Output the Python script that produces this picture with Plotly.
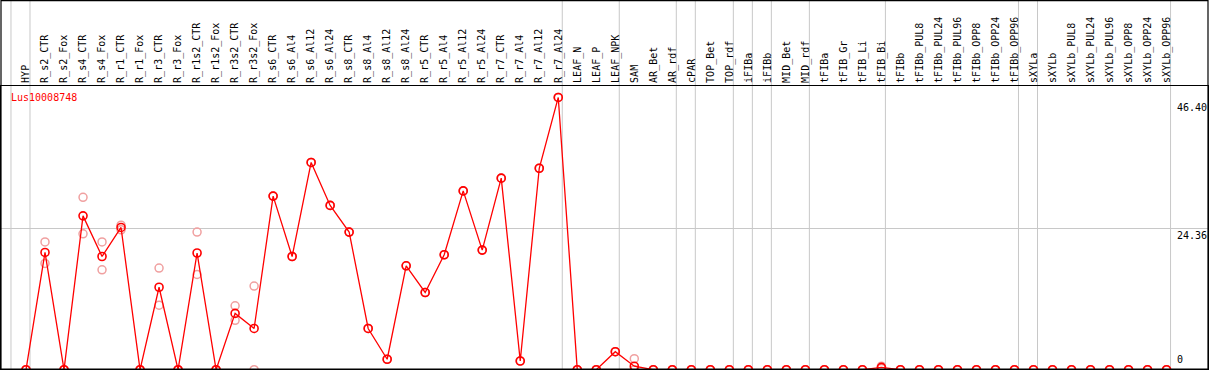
import plotly.graph_objects as go

categories = ["HYP", "R_s2_CTR", "R_s2_Fox", "R_s4_CTR", "R_s4_Fox", "R_r1_CTR", "R_r1_Fox",
              "R_r3_CTR", "R_r3_Fox", "R_r1s2_CTR", "R_r1s2_Fox", "R_r3s2_CTR", "R_r3s2_Fox",
              "R_s6_CTR", "R_s6_Al4", "R_s6_Al12", "R_s6_Al24", "R_s8_CTR", "R_s8_Al4",
              "R_s8_Al12", "R_s8_Al24", "R_r5_CTR", "R_r5_Al4", "R_r5_Al12", "R_r5_Al24",
              "R_r7_CTR", "R_r7_Al4", "R_r7_Al12", "R_r7_Al24", "LEAF_N", "LEAF_P", "LEAF_NPK",
              "SAM", "AR_Bet", "AR_rdf", "cPAR", "TOP_Bet", "TOP_rdf", "iFIBa", "iFIBb",
              "MID_Bet", "MID_rdf", "tFIBa", "tFIB_Gr", "tFIB_Li", "tFIB_Bi", "tFIBb",
              "tFIBb_PUL8", "tFIBb_PUL24", "tFIBb_PUL96", "tFIBb_OPP8", "tFIBb_OPP24",
              "tFIBb_OPP96", "sXYLa", "sXYLb", "sXYLb_PUL8", "sXYLb_PUL24", "sXYLb_PUL96",
              "sXYLb_OPP8", "sXYLb_OPP24", "sXYLb_OPP96"]

mean_values = [0, 20.2, 0, 26.5, 19.5, 24.5, 0, 14.2, 0, 20.1, 0, 9.7, 7.1,
               29.9, 19.5, 35.7, 28.3, 23.7, 7.1, 1.8, 17.9, 13.3, 19.8, 30.8, 20.6,
               33.0, 1.5, 34.7, 46.9, 0, 0, 3.1,
               0.6, 0, 0, 0, 0, 0, 0, 0, 0, 0, 0, 0, 0, 0.4, 0,
               0, 0, 0, 0, 0, 0, 0, 0, 0, 0, 0, 0, 0, 0]

rep_a = [0, 22.0, 0, 29.7, 22.0, 24.9, 0, 17.5, 0, 23.7, 0, 11.0, 14.4,
         29.9, 19.5, 35.7, 28.3, 23.7, 7.1, 1.8, 17.9, 13.3, 19.8, 30.8, 20.6,
         33.0, 1.5, 34.7, 46.9, 0, 0, 3.1,
         1.9, 0, 0, 0, 0, 0, 0, 0, 0, 0, 0, 0, 0, 0.6, 0,
         0, 0, 0, 0, 0, 0, 0, 0, 0, 0, 0, 0, 0, 0]

rep_b = [0, 18.3, 0, 23.4, 17.2, 24.1, 0, 11.1, 0, 16.4, 0, 8.5, 0,
         29.9, 19.5, 35.7, 28.3, 23.7, 7.1, 1.8, 17.9, 13.3, 19.8, 30.8, 20.6,
         33.0, 1.5, 34.7, 46.9, 0, 0, 3.1,
         0, 0, 0, 0, 0, 0, 0, 0, 0, 0, 0, 0, 0, 0.2, 0,
         0, 0, 0, 0, 0, 0, 0, 0, 0, 0, 0, 0, 0, 0]

group_sizes = [1, 28, 3, 3, 1, 2, 1, 1, 2, 4, 7, 1, 7]
y_tick_values = [46.40, 24.36, 0]
y_tick_labels = ["46.40", "24.36", "0"]
gene_name = "Lus10008748"

FONT = "DejaVu Sans Mono"
Y_RANGE = [0.12, 48.87]
x_idx = list(range(len(categories)))

fig = go.Figure()
for reps in (rep_a, rep_b):
    fig.add_trace(go.Scatter(
        x=x_idx, y=reps, mode="markers",
        marker=dict(symbol="circle-open", size=8, color="#f0a0a0", line=dict(width=1.5)),
        hoverinfo="skip", showlegend=False))
fig.add_trace(go.Scatter(
    x=x_idx, y=mean_values, mode="lines+markers",
    line=dict(color="#ff0000", width=1.3),
    marker=dict(symbol="circle-open", size=8, color="#ff0000", line=dict(width=1.6)),
    showlegend=False))

# vertical group separators
shapes = []
bounds = [-1]
acc = -1
for g in group_sizes:
    acc += g
    bounds.append(acc)
for b in bounds:
    shapes.append(dict(type="line", xref="x", yref="paper", x0=b + 0.21, x1=b + 0.21,
                       y0=0, y1=1.31, line=dict(color="#c8c8c8", width=1), layer="below"))
# outer frame
shapes.append(dict(type="rect", xref="paper", yref="paper", x0=0, x1=1, y0=0, y1=1.302,
                   line=dict(color="black", width=1.2), fillcolor="rgba(0,0,0,0)"))

annotations = []
for v, t in zip(y_tick_values, y_tick_labels):
    annotations.append(dict(xref="paper", yref="y", x=0.9738, y=max(v, Y_RANGE[0]), text=t,
                            showarrow=False,
                            xanchor="left", yanchor="bottom" if v == 0 else "top",
                            yshift=3 if v == 0 else -1, borderpad=0,
                            font=dict(family=FONT, size=10, color="black")))
annotations.append(dict(xref="paper", yref="paper", x=0.0066, y=0.961, text=gene_name,
                        showarrow=False, xanchor="left", yanchor="middle",
                        font=dict(family=FONT, size=10, color="#ff0000")))

fig.update_layout(
    width=1209, height=370,
    margin=dict(l=1, r=1, t=86, b=1, autoexpand=False),
    paper_bgcolor="white", plot_bgcolor="white",
    shapes=shapes, annotations=annotations,
    xaxis=dict(side="top", range=[-1.315, 62.18], tickmode="array", tickvals=x_idx,
               ticktext=categories, tickangle=-90, ticks="", showgrid=False, zeroline=False,
               automargin=False,
               showline=True, linecolor="black", linewidth=1.2, mirror=True,
               tickfont=dict(family=FONT, size=10, color="black")),
    yaxis=dict(range=Y_RANGE, tickmode="array", tickvals=[24.36], showticklabels=False,
               showgrid=True, gridcolor="#c8c8c8", gridwidth=1, zeroline=False,
               automargin=False,
               showline=True, linecolor="black", mirror=True),
)

fig.write_html("out.html", config={"displayModeBar": False},
               post_script="document.body.style.margin='0';document.body.style.padding='0';"
                           "document.body.style.overflow='hidden';")
